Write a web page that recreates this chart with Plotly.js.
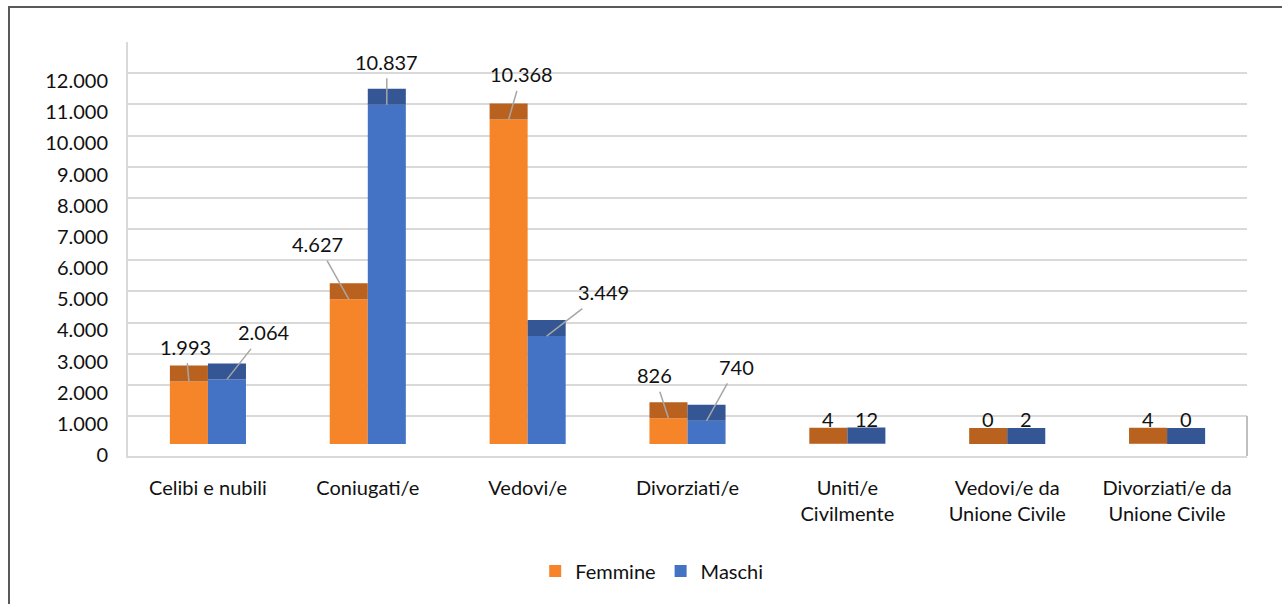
<!DOCTYPE html>
<html>
<head>
<meta charset="utf-8">
<script src="https://cdn.plot.ly/plotly-3.0.1.min.js"></script>
<style>
  html, body { margin: 0; padding: 0; background: #ffffff; }
  #wrap { position: relative; width: 1282px; height: 604px; overflow: hidden; }
  #chart { width: 1282px; height: 604px; }
  #frame { position: absolute; left: 8px; top: 6px; width: 1300px; height: 700px;
           border-left: 2px solid #595959; border-top: 2px solid #595959; pointer-events: none; }
</style>
</head>
<body>
<div id="wrap">
  <div id="chart"></div>
  <div id="frame"></div>
</div>
<script>
// ---- data ----
const categories = ['Celibi e nubili', 'Coniugati/e', 'Vedovi/e', 'Divorziati/e',
                    'Uniti/e<br>Civilmente', 'Vedovi/e da<br>Unione Civile', 'Divorziati/e da<br>Unione Civile'];
const femmine = [1993, 4627, 10368, 826, 4, 0, 4];
const maschi  = [2064, 10837, 3449, 740, 12, 2, 0];
const tickVals = [0, 1000, 2000, 3000, 4000, 5000, 6000, 7000, 8000, 9000, 10000, 11000, 12000];
const tickText = ['0', '1.000', '2.000', '3.000', '4.000', '5.000', '6.000', '7.000', '8.000', '9.000', '10.000', '11.000', '12.000'];

// ---- styling ----
const FONT = 'Lato, "Open Sans", sans-serif';
const FS = 20;
const C_F = '#F6852A', C_F_TOP = '#B9621F';
const C_M = '#4472C4', C_M_TOP = '#345694';

const PLOT_H = 604 - 42 - 148;
const Y2_RANGE = [-383.4, 12843.5];
const pxPerUnit = PLOT_H / (Y2_RANGE[1] - Y2_RANGE[0]);
const DEPTH = 16 / pxPerUnit;   // 3D top face thickness

function fmt(v) { return String(v).replace(/\B(?=(\d{3})+(?!\d))/g, '.'); }

const traces = [
  { type: 'bar', name: 'Femmine', x: categories, y: femmine, yaxis: 'y2', offsetgroup: 'F',
    marker: { color: C_F, line: { width: 0 } }, hoverinfo: 'skip' },
  { type: 'bar', name: 'Maschi', x: categories, y: maschi, yaxis: 'y2', offsetgroup: 'M',
    marker: { color: C_M, line: { width: 0 } }, hoverinfo: 'skip' },
  { type: 'bar', name: 'Femmine top', x: categories, y: femmine.map(() => DEPTH), base: femmine,
    yaxis: 'y2', offsetgroup: 'F', showlegend: false,
    marker: { color: C_F_TOP, line: { width: 0 } }, hoverinfo: 'skip' },
  { type: 'bar', name: 'Maschi top', x: categories, y: maschi.map(() => DEPTH), base: maschi,
    yaxis: 'y2', offsetgroup: 'M', showlegend: false,
    marker: { color: C_M_TOP, line: { width: 0 } }, hoverinfo: 'skip' }
];

// label offsets (pixels) for leader-line labels; null = plain label above bar
const offF = [[-3, -35], [-31, -55], [13, -45], [-14, -43], null, null, null];
const offM = [[37, -47], [0, -43], [57, -44], [30, -54], null, null, null];
const HALF = 0.119;

const annotations = [];
function addLabels(vals, offs, dx) {
  vals.forEach((v, i) => {
    const o = offs[i];
    const base = { x: i + dx, xref: 'x', y: v, yref: 'y2', text: fmt(v),
                   font: { family: FONT, size: FS, color: '#111111' } };
    if (o) {
      annotations.push(Object.assign(base, { showarrow: true, arrowhead: 0, arrowwidth: 1.5,
        arrowcolor: '#A6A6A6', ax: o[0], ay: o[1], borderpad: 4 }));
    } else {
      annotations.push(Object.assign(base, { showarrow: false, yanchor: 'middle', yshift: 25 }));
    }
  });
}
addLabels(femmine, offF, -HALF);
addLabels(maschi, offM, HALF);

const layout = {
  width: 1282, height: 604,
  margin: { l: 128, r: 35, t: 42, b: 148, pad: 0 },
  paper_bgcolor: '#ffffff', plot_bgcolor: '#ffffff',
  font: { family: FONT, size: FS, color: '#111111' },
  barmode: 'group', bargap: 0.524, bargroupgap: 0,
  showlegend: true,
  legend: { orientation: 'h', x: 0.468, xanchor: 'center', y: -0.278, yanchor: 'middle',
            font: { family: FONT, size: FS, color: '#111111' }, itemwidth: 30 },
  xaxis: { type: 'category', range: [-0.5, 6.5], showgrid: false, zeroline: false,
           showline: true, linecolor: '#D9D9D9', linewidth: 2, ticks: '',
           tickfont: { family: FONT, size: FS, color: '#111111' }, ticklabelstandoff: 13,
           fixedrange: true },
  yaxis: { range: [-1283.4, 12001], tickmode: 'array', tickvals: tickVals, ticktext: tickText,
           showgrid: true, gridcolor: '#D9D9D9', gridwidth: 2, zeroline: false,
           showline: true, linecolor: '#D9D9D9', linewidth: 2, ticks: '',
           ticklabelshift: 39, ticklabelstandoff: 14,
           tickfont: { family: FONT, size: FS, color: '#111111' }, fixedrange: true },
  yaxis2: { range: Y2_RANGE, overlaying: 'y', visible: false, fixedrange: true },
  shapes: [
    { type: 'line', xref: 'paper', yref: 'y', x0: 1, x1: 1, y0: 0, y1: -1283.4,
      line: { color: '#BFBFBF', width: 2 } }
  ],
  annotations: annotations
};

Plotly.newPlot('chart', traces, layout, { displayModeBar: false, staticPlot: true });
</script>
</body>
</html>
